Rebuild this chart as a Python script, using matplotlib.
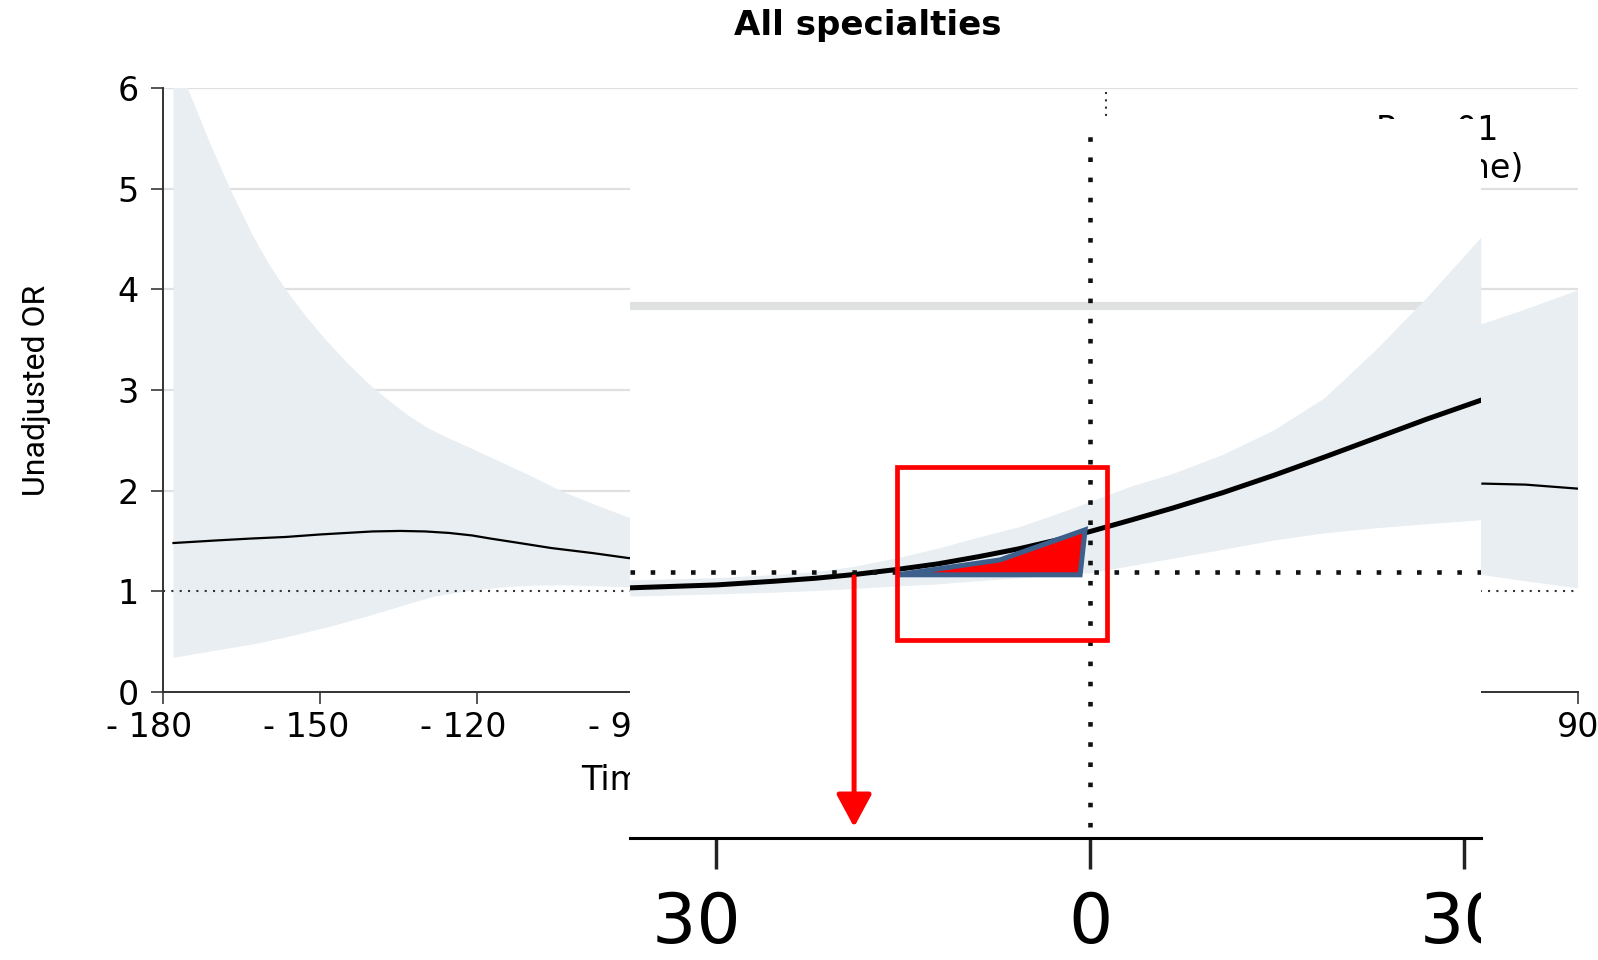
import numpy as np
import matplotlib.pyplot as plt
from matplotlib.patches import Rectangle, Polygon
from matplotlib.transforms import Bbox, TransformedBbox, ScaledTranslation

# main panel: spline OR over time
main_days = [-178, -170, -163, -156.6, -150, -145, -140, -134.7, -130, -125.4, -121,
             -117.6, -112, -105.9, -98, -91.1, -60, -30, 0, 30, 60, 72, 80, 90]
main_or = [1.48, 1.505, 1.525, 1.54, 1.565, 1.58, 1.595, 1.60, 1.595, 1.58, 1.555,
           1.525, 1.48, 1.43, 1.38, 1.33, 1.20, 1.22, 1.45, 1.85, 2.06, 2.07, 2.06, 2.02]

hi_days = [-178, -175.3, -171, -167.2, -163, -160, -156.6, -152.7, -148.8, -144.5, -140.3,
           -137.5, -133.3, -129.4, -125.5, -121.6, -115, -110, -104.2, -97.6, -91,
           -60, -30, 0, 30, 60, 72, 80, 90]
hi_or = [6.35, 6.0, 5.45, 5.0, 4.55, 4.27, 4.0, 3.73, 3.49, 3.25, 3.04,
         2.92, 2.75, 2.62, 2.52, 2.43, 2.27, 2.15, 2.0, 1.86, 1.73,
         1.6, 1.9, 2.5, 3.2, 3.5, 3.66, 3.8, 3.99]
lo_days = [-178, -170, -162, -155, -148, -141, -134, -128, -122, -115, -110, -104, -97, -91,
           -60, -30, 0, 30, 60, 72, 80, 90]
lo_or = [0.34, 0.41, 0.48, 0.56, 0.65, 0.75, 0.86, 0.95, 1.0, 1.04, 1.055, 1.06, 1.05, 1.04,
         1.0, 1.0, 1.05, 1.2, 1.2, 1.16, 1.1, 1.03]

x_ticks = [-180, -150, -120, -90, -60, -30, 0, 30, 60, 90]
x_labels = ['- 180', '- 150', '- 120', '- 90', '- 60', '- 30', '0', '30', '60', '90']
y_ticks = [0, 1, 2, 3, 4, 5, 6]

# zoomed inset around day 0
inset_days = [-36.95, -30.0, -25.34, -22.07, -18.96, -15.53, -12.26, -8.99, -5.72, -2.86,
              0, 3.27, 6.54, 10.63, 14.71, 18.80, 22.89, 26.97, 31.31]
inset_or = [0.939, 0.950, 0.964, 0.975, 0.989, 1.008, 1.029, 1.056, 1.086, 1.117,
            1.151, 1.194, 1.238, 1.297, 1.362, 1.431, 1.502, 1.573, 1.644]
inset_hi = [0.969, 0.977, 0.989, 1.000, 1.020, 1.052, 1.088, 1.130, 1.169, 1.215,
            1.264, 1.322, 1.368, 1.441, 1.533, 1.655, 1.835, 2.031, 2.257]
inset_lo = [0.908, 0.916, 0.923, 0.929, 0.937, 0.946, 0.954, 0.966, 0.977, 0.987,
            0.996, 1.023, 1.050, 1.084, 1.119, 1.146, 1.165, 1.180, 1.195]
inset_ticks = [-30, 0, 30]
inset_labels = ['- 30', '0', '30']

# annotations drawn on the inset
box_x = [-15.53, 1.31]
box_y = [0.743, 1.395]
wedge_x = [-15.5, -7.25, -0.43, -0.83]
wedge_y = [0.988, 1.044, 1.157, 0.988]
arrow_x = -18.96
arrow_y = [0.98, 0.04]

band_col = '#e8eef2'
W, H = 1598, 960

fig = plt.figure(figsize=(W / 100, H / 100), dpi=100)
ax = fig.add_axes([163 / W, 1 - 692 / H, (1578 - 163) / W, (692 - 88) / H])

for y in y_ticks[2:]:
    ax.axhline(y, color='#dfe1e1', lw=1.6, zorder=0)
ax.fill(hi_days + lo_days[::-1], hi_or + lo_or[::-1], color=band_col, lw=0, zorder=1)
ax.axhline(1, color='#333333', lw=1.5, ls=(0, (1, 3)), zorder=2)
ax.axvline(0, color='#333333', lw=1.5, ls=(0, (1, 2.5)), zorder=2)
ax.plot(main_days, main_or, color='black', lw=1.6, zorder=3)

ax.set_xlim(-180, 90)
ax.set_ylim(0, 6)
ax.set_xticks(x_ticks)
ax.set_xticklabels(x_labels)
ax.set_yticks(y_ticks)
ax.tick_params(length=8.6, width=1.4, color='#555555', labelsize=24)
ax.tick_params(axis='x', pad=5)
ax.tick_params(axis='y', pad=9)
shift = ScaledTranslation(-0.14, 0, fig.dpi_scale_trans)
for lbl, v in zip(ax.get_xticklabels(), x_ticks):
    if v < 0:
        lbl.set_transform(lbl.get_transform() + shift)
for s in ['top', 'right']:
    ax.spines[s].set_visible(False)
for s in ['left', 'bottom']:
    ax.spines[s].set_color('#333333')
    ax.spines[s].set_linewidth(1.4)

ax.set_ylabel('Unadjusted OR', fontsize=23, family='Roboto')
ax.yaxis.set_label_coords(-0.079, 0.5)
ax.text(581 / W, 1 - 781 / H, 'Time relative to index date, d', fontsize=24,
        ha='left', va='center', transform=fig.transFigure)
ax.text(1498 / W, 1 - 131 / H, 'P = .01', fontsize=24,
        ha='right', va='center', transform=fig.transFigure)
ax.text(1523 / W, 1 - 169 / H, '(vs baseline)', fontsize=24,
        ha='right', va='center', transform=fig.transFigure)
fig.text(868 / W, 1 - 25 / H, 'All specialties', fontsize=24.5, fontweight='bold',
         ha='center', va='center')

# inset
l, r, b, t = 629.8, 1480.8, 837.7, 119
ax_in = fig.add_axes([l / W, 1 - b / H, (r - l) / W, (b - t) / H])
ax_in.set_zorder(5)
ax_in.set_facecolor('white')
ax_in.axhline(2, color='#e0e2e2', lw=5.9, zorder=0)
ax_in.fill_between(inset_days, inset_lo, inset_hi, color=band_col, lw=0, zorder=1)
ax_in.plot(inset_days, inset_or, color='black', lw=3.6, zorder=3)
ax_in.axhline(1, color='#111111', lw=3.3, ls=(0, (1, 3.4)), zorder=4)
ax_in.plot([0, 0], [0.04, 2.67], color='#111111', lw=3.3, ls=(0, (1, 3.4)), zorder=4)

ax_in.add_patch(Polygon(list(zip(wedge_x, wedge_y)), closed=True, fc='red',
                        ec='#3d5f8c', lw=3.6, zorder=6))
ax_in.add_patch(Rectangle((box_x[0], box_y[0]), box_x[1] - box_x[0], box_y[1] - box_y[0],
                          fill=False, ec='red', lw=3.4, zorder=7))
ax_in.annotate('', xy=(arrow_x, arrow_y[1]), xytext=(arrow_x, arrow_y[0]),
               arrowprops=dict(arrowstyle='-|>,head_length=0.5,head_width=0.27',
                               color='red', lw=3.6, mutation_scale=40,
                               shrinkA=0, shrinkB=0), zorder=7)

ax_in.set_xlim(-36.95, 31.31)
ax_in.set_ylim(0, 2.701)
ax_in.set_yticks([])
ax_in.set_xticks(inset_ticks)
ax_in.set_xticklabels(inset_labels)
ax_in.tick_params(axis='x', length=22, width=2.5, color='#222222', labelsize=50, pad=16)
for s in ['top', 'right', 'left']:
    ax_in.spines[s].set_visible(False)
ax_in.spines['bottom'].set_color('black')
ax_in.spines['bottom'].set_linewidth(2.2)

clip = TransformedBbox(Bbox([[l / W, 0], [r / W, 1]]), fig.transFigure)
shift_in = ScaledTranslation(-0.44, 0, fig.dpi_scale_trans)
for lbl, v in zip(ax_in.get_xticklabels(), inset_ticks):
    if v < 0:
        lbl.set_transform(lbl.get_transform() + shift_in)
    lbl.set_clip_box(clip)
    lbl.set_clip_on(True)

fig.savefig('out.png', dpi=100)
